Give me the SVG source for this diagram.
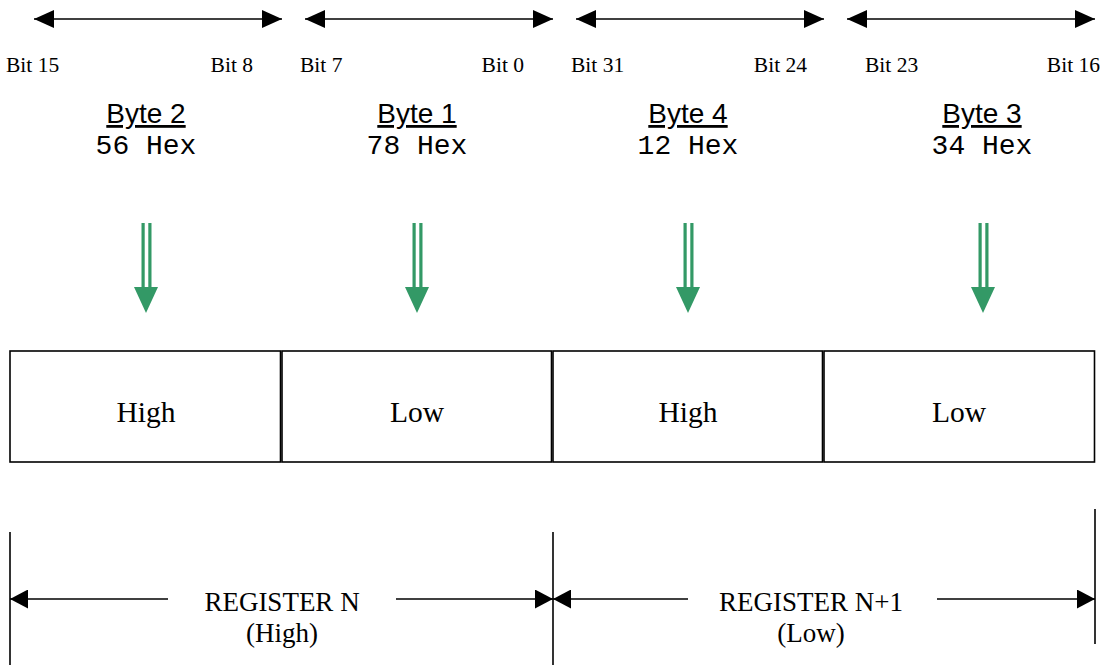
<svg xmlns="http://www.w3.org/2000/svg" width="1105" height="665" viewBox="0 0 1105 665">
<style>
.bit{font-family:"Liberation Serif","Times New Roman",serif;font-size:21.5px;fill:#000}
.byte{font-family:"Liberation Sans",Arial,sans-serif;font-size:28px;fill:#000;text-anchor:middle}
.hex{font-family:"Liberation Mono","Courier New",monospace;font-size:28px;fill:#000;text-anchor:middle}
.cell{fill:#fff;stroke:#000;stroke-width:1.6}
.ctext{font-family:"Liberation Serif","Times New Roman",serif;font-size:29.5px;fill:#000;text-anchor:middle}
.reg{font-family:"Liberation Serif","Times New Roman",serif;font-size:27px;fill:#000;text-anchor:middle}
.ln{stroke:#000;stroke-width:1.6;fill:none}
.green{fill:#339966}
</style>
<defs>
<marker id="ah" viewBox="0 0 20 18" refX="20" refY="9" markerWidth="20" markerHeight="18" markerUnits="userSpaceOnUse" orient="auto-start-reverse">
<path d="M0,0 L20,9 L0,18 Z" fill="#000"/>
</marker>
<marker id="ah2" viewBox="0 0 18 19" refX="18" refY="9.5" markerWidth="18" markerHeight="19" markerUnits="userSpaceOnUse" orient="auto-start-reverse">
<path d="M0,0 L18,9.5 L0,19 Z" fill="#000"/>
</marker>
<g id="garrow">
<rect x="-4.5" y="0" width="3.2" height="65" class="green"/>
<rect x="2.3" y="0" width="3.2" height="65" class="green"/>
<path d="M-12,64 L12,64 L0,90 Z" class="green"/>
</g>
</defs>

<g id="connectors">
<line class="ln" x1="34" y1="19" x2="282" y2="19" marker-start="url(#ah)" marker-end="url(#ah)"/>
<line class="ln" x1="305" y1="19" x2="553" y2="19" marker-start="url(#ah)" marker-end="url(#ah)"/>
<line class="ln" x1="576" y1="19" x2="824" y2="19" marker-start="url(#ah)" marker-end="url(#ah)"/>
<line class="ln" x1="847" y1="19" x2="1095" y2="19" marker-start="url(#ah)" marker-end="url(#ah)"/>

<use href="#garrow" x="146" y="223"/>
<use href="#garrow" x="417" y="223"/>
<use href="#garrow" x="688" y="223"/>
<use href="#garrow" x="983" y="223"/>

<line class="ln" x1="10" y1="532" x2="10" y2="665"/>
<line class="ln" x1="553" y1="532" x2="553" y2="665"/>
<line class="ln" x1="1095" y1="509" x2="1095" y2="644"/>
<line class="ln" x1="168" y1="599" x2="10" y2="599" marker-end="url(#ah2)"/>
<line class="ln" x1="396" y1="599" x2="553" y2="599" marker-end="url(#ah2)"/>
<line class="ln" x1="688" y1="599" x2="553" y2="599" marker-end="url(#ah2)"/>
<line class="ln" x1="937" y1="599" x2="1095" y2="599" marker-end="url(#ah2)"/>
</g>

<g id="bits">
<text class="bit" x="6" y="72">Bit 15</text>
<text class="bit" x="253" y="72" text-anchor="end">Bit 8</text>
<text class="bit" x="300" y="72">Bit 7</text>
<text class="bit" x="524" y="72" text-anchor="end">Bit 0</text>
<text class="bit" x="571" y="72">Bit 31</text>
<text class="bit" x="807" y="72" text-anchor="end">Bit 24</text>
<text class="bit" x="865" y="72">Bit 23</text>
<text class="bit" x="1100" y="72" text-anchor="end">Bit 16</text>
</g>

<g id="byte2">
<text class="byte" x="146" y="123" text-decoration="underline">Byte 2</text>
<text class="hex" x="146" y="154">56 Hex</text>
</g>
<g id="byte1">
<text class="byte" x="417" y="123" text-decoration="underline">Byte 1</text>
<text class="hex" x="417" y="154">78 Hex</text>
</g>
<g id="byte4">
<text class="byte" x="688" y="123" text-decoration="underline">Byte 4</text>
<text class="hex" x="688" y="154">12 Hex</text>
</g>
<g id="byte3">
<text class="byte" x="982" y="123" text-decoration="underline">Byte 3</text>
<text class="hex" x="982" y="154">34 Hex</text>
</g>

<g id="cell1">
<rect class="cell" x="10" y="351" width="270.5" height="111"/>
<text class="ctext" x="146" y="422">High</text>
</g>
<g id="cell2">
<rect class="cell" x="282" y="351" width="269.5" height="111"/>
<text class="ctext" x="417" y="422">Low</text>
</g>
<g id="cell3">
<rect class="cell" x="553" y="351" width="269.5" height="111"/>
<text class="ctext" x="688" y="422">High</text>
</g>
<g id="cell4">
<rect class="cell" x="824" y="351" width="270.5" height="111"/>
<text class="ctext" x="959" y="422">Low</text>
</g>

<g id="regN">
<text class="reg" x="282" y="611">REGISTER N</text>
<text class="reg" x="282" y="642">(High)</text>
</g>
<g id="regN1">
<text class="reg" x="811" y="611">REGISTER N+1</text>
<text class="reg" x="811" y="642">(Low)</text>
</g>
</svg>
